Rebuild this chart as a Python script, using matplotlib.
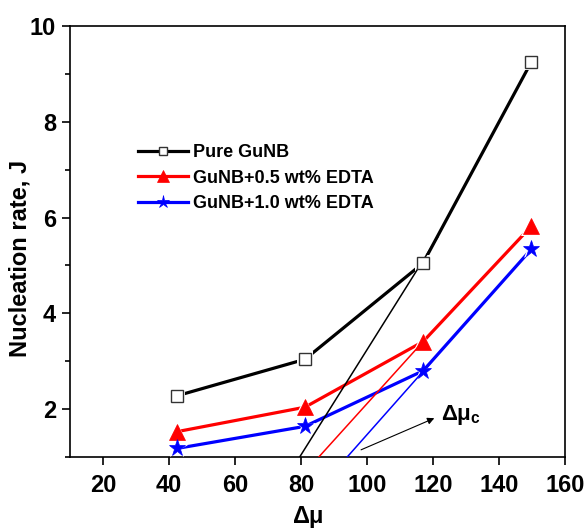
import matplotlib
matplotlib.use("Agg")
import matplotlib.pyplot as plt
from matplotlib.lines import Line2D
from matplotlib.ticker import MultipleLocator

plt.rcParams['font.family'] = ['Liberation Sans', 'DejaVu Sans']
plt.rcParams['font.weight'] = 'bold'
plt.rcParams['mathtext.fontset'] = 'custom'
plt.rcParams['mathtext.rm'] = 'Liberation Sans:bold'
plt.rcParams['mathtext.it'] = 'Liberation Sans:bold'
plt.rcParams['mathtext.bf'] = 'Liberation Sans:bold'

# ---- data ----
delta_mu = [42.5, 81.2, 117.0, 149.8]
pure_gunb = [2.28, 3.04, 5.05, 9.25]
edta_05 = [1.53, 2.04, 3.41, 5.82]
edta_10 = [1.18, 1.64, 2.80, 5.34]

labels = ["Pure GuNB", "GuNB+0.5 wt% EDTA", "GuNB+1.0 wt% EDTA"]
colors = ["black", "red", "blue"]
markers = ["s", "^", "*"]

# tangent (extrapolation) lines: (x0, x1), (y0, y1)
tan_black_x = [79.6, 121.5]
tan_black_y = [1.0, 5.6]
tan_red_x = [85.4, 117.0]
tan_red_y = [1.0, 3.41]
tan_blue_x = [94.0, 121.0]
tan_blue_y = [1.0, 3.1]

arrow_start = (98.2, 1.15)
arrow_end = (120.4, 1.81)
label_pos = (122.5, 1.88)

x_ticks = [20, 40, 60, 80, 100, 120, 140, 160]
y_ticks = [2, 4, 6, 8, 10]

fig = plt.figure(figsize=(5.86, 5.29), dpi=100)
ax = fig.add_axes([70/586, 1-457/529, (565-70)/586, (457-26)/529])

series = [pure_gunb, edta_05, edta_10]
msizes = [8.4, 11.0, 12.5]
faces = ["white", "red", "blue"]
for ys, c, m, ms, fc in zip(series, colors, markers, msizes, faces):
    ax.plot(delta_mu, ys, color=c, lw=2.3, zorder=2, solid_capstyle='butt')
    ax.plot(delta_mu, ys, ls='none', marker=m, ms=ms + 3.5, mfc='white',
            mec='white', mew=0, zorder=3)
    ax.plot(delta_mu, ys, ls='none', marker=m, ms=ms, mfc=fc,
            mec=c if m != 's' else '#333333', mew=1.0 if m == 's' else 0.5, zorder=5)

ax.plot(tan_black_x, tan_black_y, color='black', lw=1.1, zorder=4)
ax.plot(tan_red_x, tan_red_y, color='red', lw=1.1, zorder=4)
ax.plot(tan_blue_x, tan_blue_y, color='blue', lw=1.1, zorder=4)

ax.annotate("", xy=arrow_end, xytext=arrow_start,
            arrowprops=dict(arrowstyle='-|>', color='black', lw=0.8,
                            mutation_scale=10, shrinkA=0, shrinkB=0))
ax.text(label_pos[0], label_pos[1], r"$\Delta\mu_c$", fontsize=16,
        ha='left', va='center')

ax.set_xlim(10, 160)
ax.set_ylim(1, 10)
ax.set_xticks(x_ticks)
ax.set_yticks(y_ticks)
ax.yaxis.set_minor_locator(MultipleLocator(1))
ax.tick_params(axis='both', which='major', direction='out', length=6, width=1.2,
               labelsize=17, top=False, right=False)
ax.tick_params(axis='y', which='minor', direction='out', length=3.5, width=1.2)
ax.tick_params(axis='x', which='major', pad=6)
ax.tick_params(axis='y', which='major', pad=4)
for lab in ax.get_xticklabels() + ax.get_yticklabels():
    lab.set_fontweight('bold')
for s in ax.spines.values():
    s.set_linewidth(1.2)

ax.set_xlabel(r"$\Delta\mu$", fontsize=17)
ax.xaxis.set_label_coords(0.48, -0.11)
ax.set_ylabel("Nucleation rate, J", fontsize=17, fontweight='bold')
ax.yaxis.set_label_coords(-0.077, 0.46)

handles = [Line2D([], [], color=c, lw=2.3, marker=m, ms=ms * 0.75, mfc=fc,
                  mec=c if m != 's' else '#333333', mew=1.0 if m == 's' else 0.5)
           for c, m, ms, fc in zip(colors, markers, msizes, faces)]
leg = ax.legend(handles, labels, loc='upper left', frameon=False,
                bbox_to_anchor=(138/586, 1-144/529), bbox_transform=fig.transFigure,
                prop={'weight': 'bold', 'size': 13}, handlelength=2.77,
                handletextpad=0.28, labelspacing=0.48, borderpad=0, borderaxespad=0)

fig.savefig("out.png", dpi=100)
